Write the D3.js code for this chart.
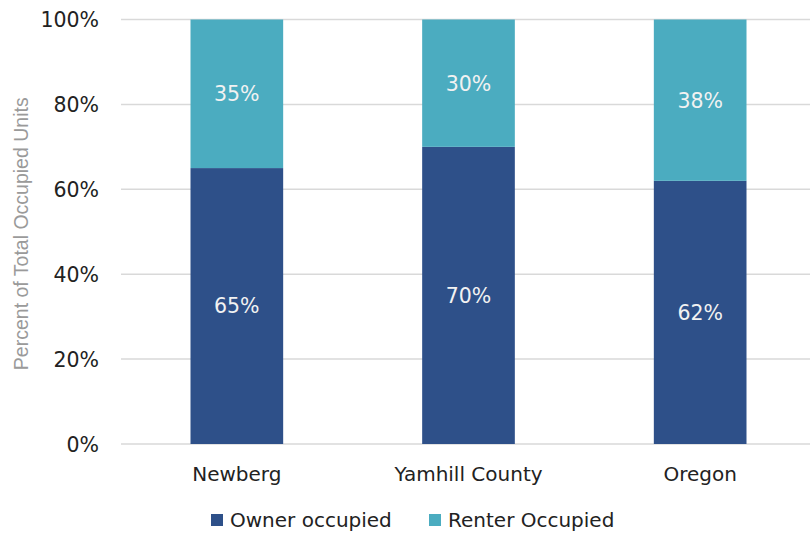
<!DOCTYPE html>
<html><head><meta charset="utf-8">
<script src="https://cdn.jsdelivr.net/npm/d3@7"></script>
<style>body{margin:0;background:#fff}svg{display:block}</style>
</head><body>
<script>
const categories = ["Newberg", "Yamhill County", "Oregon"];
const ownerValues = [65, 70, 62];
const renterValues = [35, 30, 38];
const seriesNames = ["Owner occupied", "Renter Occupied"];
const yTicks = [0, 20, 40, 60, 80, 100];
const yTitle = "Percent of Total Occupied Units";

const W = 810, H = 534;
const colors = ["#2E5089", "#4BACC0"];
const font = "'DejaVu Sans', sans-serif";

const svg = d3.select("body").append("svg").attr("width", W).attr("height", H);

const x = d3.scaleBand().domain(categories).range([121, 816]).paddingInner(0.6).paddingOuter(0.3);
const y = d3.scaleLinear().domain([0, 100]).range([444, 19.5]);

// gridlines
svg.append("g").selectAll("line").data(yTicks).join("line")
  .attr("x1", 121).attr("x2", 816)
  .attr("y1", d => y(d)).attr("y2", d => y(d))
  .attr("stroke", "#d9d9d9").attr("stroke-width", 1.5);

// y axis labels
const yAxis = d3.axisLeft(y).tickValues(yTicks).tickFormat(d => d + "%").tickSize(0).tickPadding(0);
const ya = svg.append("g").attr("transform", "translate(99,0)").call(yAxis);
ya.select(".domain").remove();
ya.selectAll("text").attr("font-family", font).attr("font-size", 20.5).attr("fill", "#222").attr("dy", "0.36em");

// x axis labels
const xAxis = d3.axisBottom(x).tickSize(0).tickPadding(0);
const xa = svg.append("g").attr("transform", "translate(0,467)").call(xAxis);
xa.select(".domain").remove();
xa.selectAll("text").attr("font-family", font).attr("font-size", 20).attr("fill", "#222").attr("dy", "0.71em");

// stacked data
const rows = categories.map((c, i) => ({cat: c, owner: ownerValues[i], renter: renterValues[i]}));
const stack = d3.stack().keys(["owner", "renter"])(rows);

const g = svg.append("g");
stack.forEach((layer, li) => {
  g.append("g").selectAll("rect").data(layer).join("rect")
    .attr("x", d => x(d.data.cat)).attr("width", x.bandwidth())
    .attr("y", d => y(d[1])).attr("height", d => y(d[0]) - y(d[1]))
    .attr("fill", colors[li]);
  g.append("g").selectAll("text").data(layer).join("text")
    .attr("x", d => x(d.data.cat) + x.bandwidth() / 2)
    .attr("y", d => (y(d[0]) + y(d[1])) / 2)
    .attr("text-anchor", "middle").attr("dy", "0.36em")
    .attr("font-family", font).attr("font-size", 20.5).attr("fill", "#f2f2f2")
    .text(d => (d[1] - d[0]) + "%");
});

// y title
svg.append("text")
  .attr("transform", `translate(28,${(y(0) + y(100)) / 2 + 2}) rotate(-90)`)
  .attr("text-anchor", "middle")
  .attr("font-family", "'Liberation Sans', Arial, sans-serif").attr("font-size", 19.5)
  .attr("fill", "#9a9a9a").text(yTitle);

// legend
const legendX = [211, 429];
const lg = svg.append("g");
seriesNames.forEach((name, i) => {
  lg.append("rect").attr("x", legendX[i]).attr("y", 514).attr("width", 12).attr("height", 12).attr("fill", colors[i]);
  lg.append("text").attr("x", legendX[i] + 19).attr("y", 520).attr("dy", "0.36em")
    .attr("font-family", font).attr("font-size", 20).attr("fill", "#222").text(name);
});
</script>
</body></html>
